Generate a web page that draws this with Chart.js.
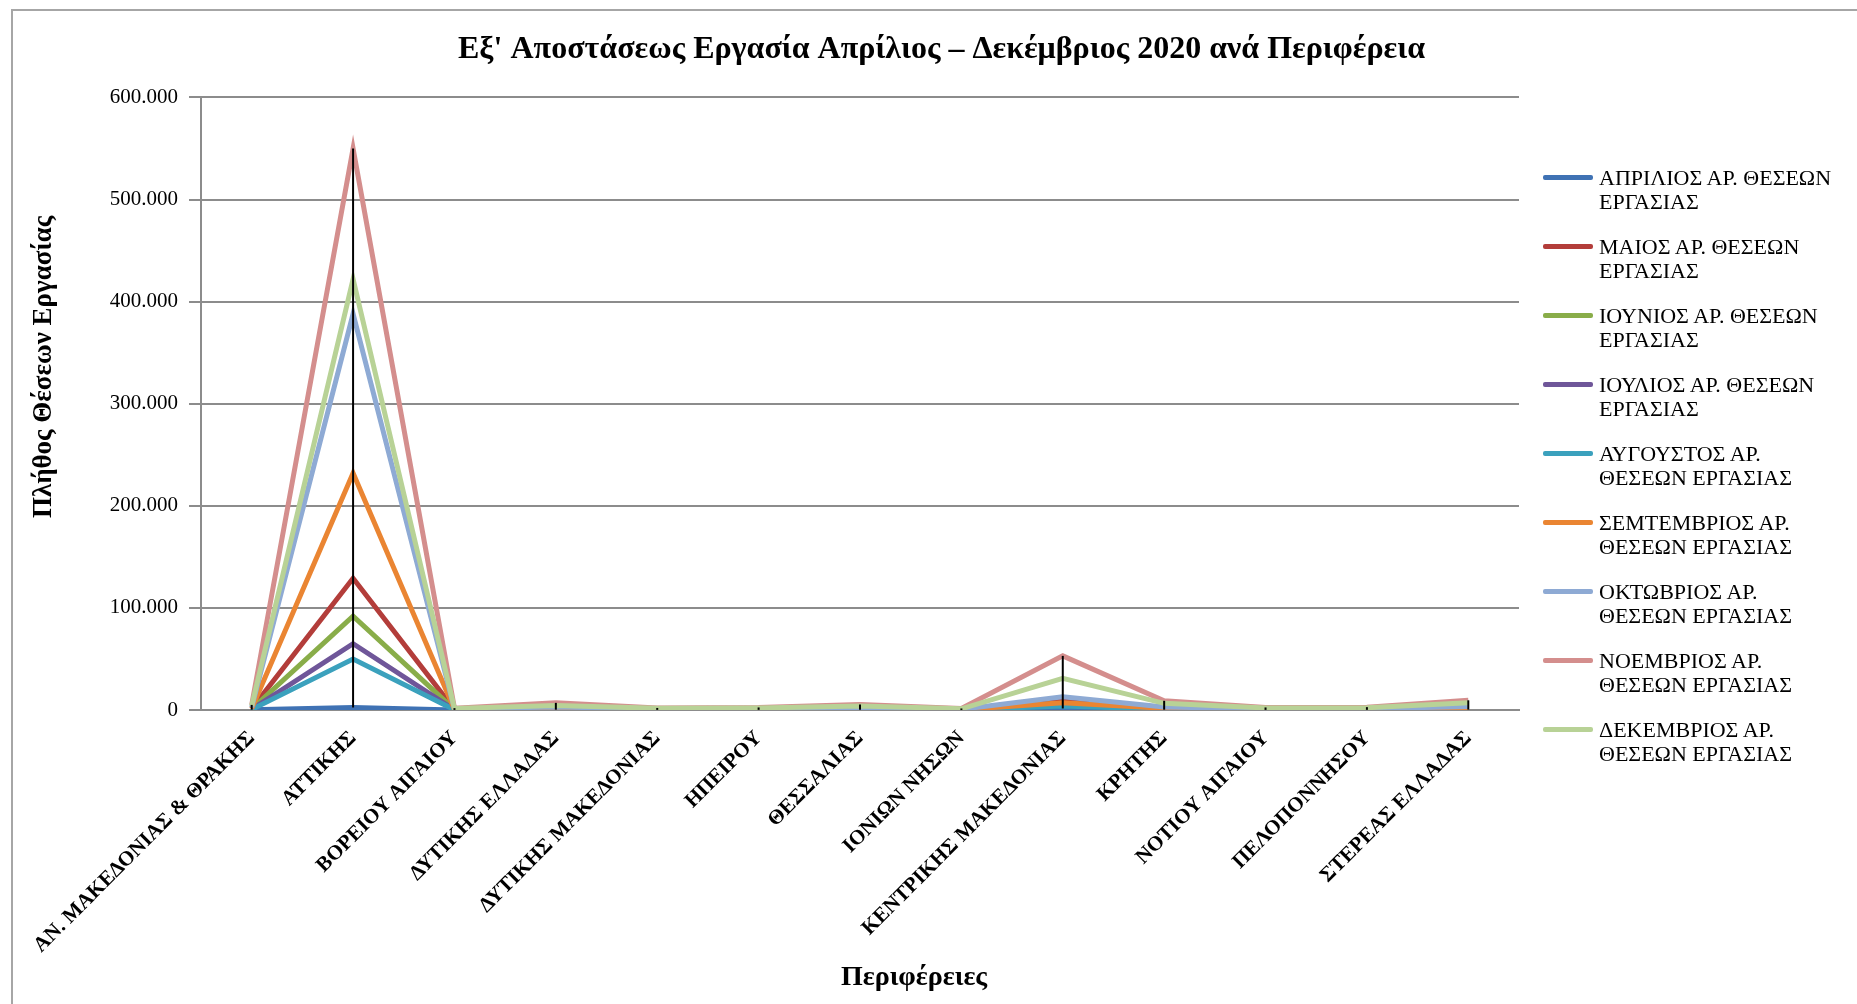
<!DOCTYPE html>
<html>
<head>
<meta charset="utf-8">
<script src="https://cdn.jsdelivr.net/npm/chart.js@4.4.1/dist/chart.umd.min.js"></script>
<style>
  body { margin: 0; background: #fff; overflow: hidden; }
  #wrap { position: relative; width: 1857px; height: 1004px; }
  #frame { position: absolute; left: 11px; top: 9px; width: 1900px; height: 1100px; border: 2px solid #a6a6a6; }
  #myChart { position: absolute; left: 0; top: 0; }
  #legend { position: absolute; left: 1543px; top: 166px; font-family: "Liberation Serif", serif; font-size: 22px; color: #000; }
  .item { display: flex; align-items: flex-start; height: 69px; }
  .swatch { width: 50px; height: 5px; margin-top: 9px; margin-right: 6px; border-radius: 2px; }
  .txt { line-height: 23.5px; white-space: nowrap; }
</style>
</head>
<body>
<div id="wrap">
  <div id="frame"></div>
  <canvas id="myChart" width="1857" height="1004"></canvas>
  <div id="legend"></div>
</div>
<script>
const regions = [
  'ΑΝ. ΜΑΚΕΔΟΝΙΑΣ & ΘΡΑΚΗΣ', 'ΑΤΤΙΚΗΣ', 'ΒΟΡΕΙΟΥ ΑΙΓΑΙΟΥ', 'ΔΥΤΙΚΗΣ ΕΛΛΑΔΑΣ',
  'ΔΥΤΙΚΗΣ ΜΑΚΕΔΟΝΙΑΣ', 'ΗΠΕΙΡΟΥ', 'ΘΕΣΣΑΛΙΑΣ', 'ΙΟΝΙΩΝ ΝΗΣΩΝ',
  'ΚΕΝΤΡΙΚΗΣ ΜΑΚΕΔΟΝΙΑΣ', 'ΚΡΗΤΗΣ', 'ΝΟΤΙΟΥ ΑΙΓΑΙΟΥ', 'ΠΕΛΟΠΟΝΝΗΣΟΥ', 'ΣΤΕΡΕΑΣ ΕΛΛΑΔΑΣ'
];

// legend names, split where the original wraps them
const seriesNames = [
  ['ΑΠΡΙΛΙΟΣ ΑΡ. ΘΕΣΕΩΝ', 'ΕΡΓΑΣΙΑΣ'],
  ['ΜΑΙΟΣ ΑΡ. ΘΕΣΕΩΝ', 'ΕΡΓΑΣΙΑΣ'],
  ['ΙΟΥΝΙΟΣ ΑΡ. ΘΕΣΕΩΝ', 'ΕΡΓΑΣΙΑΣ'],
  ['ΙΟΥΛΙΟΣ ΑΡ. ΘΕΣΕΩΝ', 'ΕΡΓΑΣΙΑΣ'],
  ['ΑΥΓΟΥΣΤΟΣ ΑΡ.', 'ΘΕΣΕΩΝ ΕΡΓΑΣΙΑΣ'],
  ['ΣΕΜΤΕΜΒΡΙΟΣ ΑΡ.', 'ΘΕΣΕΩΝ ΕΡΓΑΣΙΑΣ'],
  ['ΟΚΤΩΒΡΙΟΣ ΑΡ.', 'ΘΕΣΕΩΝ ΕΡΓΑΣΙΑΣ'],
  ['ΝΟΕΜΒΡΙΟΣ ΑΡ.', 'ΘΕΣΕΩΝ ΕΡΓΑΣΙΑΣ'],
  ['ΔΕΚΕΜΒΡΙΟΣ ΑΡ.', 'ΘΕΣΕΩΝ ΕΡΓΑΣΙΑΣ']
];

const april     = [300, 2500, 100, 300, 100, 150, 250, 80, 1500, 300, 100, 150, 400];
const may       = [1200, 129000, 400, 1500, 500, 600, 1300, 300, 9000, 1500, 500, 600, 1600];
const june      = [900, 92000, 300, 1100, 400, 450, 1000, 250, 6500, 1100, 400, 450, 1200];
const july      = [700, 65000, 250, 800, 300, 350, 700, 200, 5000, 800, 300, 350, 900];
const august    = [600, 50000, 200, 700, 250, 300, 600, 150, 4000, 700, 250, 300, 800];
const september = [1500, 232000, 500, 1800, 600, 700, 1600, 400, 7000, 1700, 600, 700, 2000];
const october   = [2500, 388000, 900, 3000, 900, 1100, 2600, 700, 13000, 3000, 1000, 1100, 3500];
const november  = [5000, 550000, 1800, 7000, 2000, 2500, 5500, 1500, 53000, 9000, 2500, 2800, 9500];
const december  = [4000, 422000, 1500, 4500, 1600, 1900, 4000, 1200, 31000, 6500, 2000, 2200, 7000];

const series = [april, may, june, july, august, september, october, november, december];
const colors = ['#3f72b4', '#b33d3a', '#89ad49', '#6f5699', '#3ba1bd', '#ea8532', '#8eaad4', '#d48e8d', '#b8d296'];
const yTicks = [0, 100000, 200000, 300000, 400000, 500000, 600000];

const xTitle = 'Περιφέρειες';
const yTitle = 'Πλήθος Θέσεων Εργασίας';

const serif = '"Liberation Serif", "Times New Roman", serif';

// black high-low line at every region, like the excel original
const highLow = {
  id: 'highLow',
  afterDatasetsDraw(chart) {
    const { ctx, scales: { x, y } } = chart;
    ctx.save();
    ctx.strokeStyle = '#000';
    ctx.lineWidth = 2;
    regions.forEach((r, i) => {
      const vals = series.map(s => s[i]);
      const px = x.getPixelForValue(i);
      ctx.beginPath();
      ctx.moveTo(px, y.getPixelForValue(Math.max(...vals)));
      ctx.lineTo(px, y.getPixelForValue(Math.min(...vals)));
      ctx.stroke();
    });
    ctx.restore();
  }
};

// axis titles sit off-centre in the original, so draw them here
const axisTitles = {
  id: 'axisTitles',
  afterDraw(chart) {
    const { ctx, chartArea: a } = chart;
    ctx.save();
    ctx.fillStyle = '#000';
    ctx.textAlign = 'center';
    ctx.textBaseline = 'middle';
    ctx.font = 'bold 28px ' + serif;
    ctx.fillText(xTitle, a.left + a.width * 0.541, 978);
    ctx.translate(44, a.top + a.height * 0.44);
    ctx.rotate(-Math.PI / 2);
    ctx.font = 'bold 27px ' + serif;
    ctx.fillText(yTitle, 0, 0);
    ctx.restore();
  }
};

function fmt(v) {
  return String(v).replace(/\B(?=(\d{3})+(?!\d))/g, '.');
}

const ctx = document.getElementById('myChart').getContext('2d');
new Chart(ctx, {
  type: 'line',
  data: {
    labels: regions,
    datasets: series.map((s, i) => ({
      label: seriesNames[i].join(' '),
      data: s,
      borderColor: colors[i],
      backgroundColor: colors[i],
      borderWidth: 5,
      pointRadius: 0,
      tension: 0,
      order: series.length - i
    }))
  },
  options: {
    responsive: false,
    animation: false,
    layout: { padding: { left: 26, right: 0, top: 0, bottom: 0 } },
    plugins: {
      legend: { display: false },
      tooltip: { enabled: false },
      title: {
        display: true,
        text: "Εξ' Αποστάσεως Εργασία Απρίλιος – Δεκέμβριος 2020 ανά Περιφέρεια",
        color: '#000',
        font: { family: serif, size: 32, weight: 'bold' },
        padding: { top: 31, bottom: 28 }
      }
    },
    scales: {
      x: {
        offset: true,
        afterFit: s => { s.height = 294; },
        grid: { display: false },
        border: { color: '#8c8c8c', width: 2 },
        ticks: {
          autoSkip: false,
          maxRotation: 45,
          minRotation: 45,
          padding: 8,
          color: '#000',
          font: { family: serif, size: 21, weight: 'bold' }
        }
      },
      y: {
        min: 0,
        max: 600000,
        afterFit: s => { s.width = 175; },
        afterBuildTicks: s => { s.ticks = yTicks.map(v => ({ value: v })); },
        grid: { color: '#8c8c8c', lineWidth: 2, tickLength: 12 },
        border: { color: '#8c8c8c', width: 2 },
        ticks: {
          padding: 11,
          color: '#000',
          font: { family: serif, size: 21 },
          callback: v => fmt(v)
        }
      },
      // empty right axis, only keeps room for the legend
      yRight: {
        position: 'right',
        afterFit: s => { s.width = 338; },
        grid: { display: false },
        border: { display: false },
        ticks: { display: false }
      }
    }
  },
  plugins: [highLow, axisTitles]
});

const legendBox = document.getElementById('legend');
series.forEach((s, i) => {
  const item = document.createElement('div');
  item.classList.add('item');
  const sw = document.createElement('div');
  sw.classList.add('swatch');
  sw.style.background = colors[i];
  const txt = document.createElement('div');
  txt.classList.add('txt');
  txt.innerHTML = seriesNames[i].join('<br>');
  item.appendChild(sw);
  item.appendChild(txt);
  legendBox.appendChild(item);
});
</script>
</body>
</html>
